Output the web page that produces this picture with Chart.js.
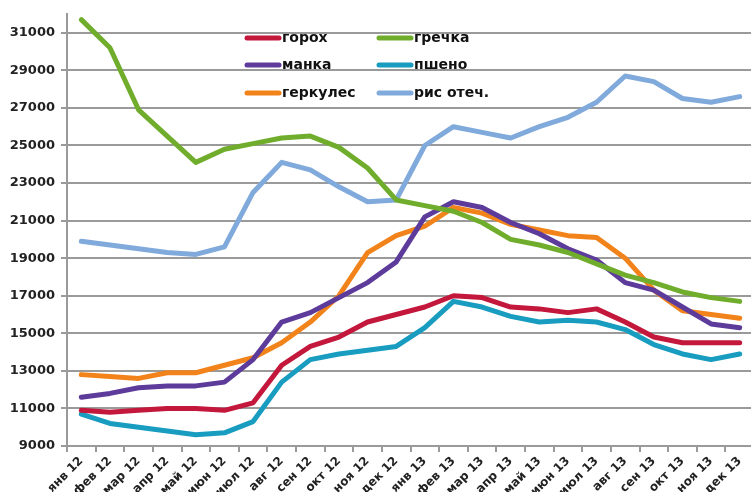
<!DOCTYPE html>
<html>
<head>
<meta charset="utf-8">
<script src="https://cdn.jsdelivr.net/npm/chart.js@4.4.1/dist/chart.umd.min.js"></script>
<style>
	html, body { margin: 0; padding: 0; background: #fff; overflow: hidden; }
	#wrap { width: 760px; height: 492px; }
</style>
</head>
<body>
<div id="wrap"><canvas id="prices"></canvas></div>
<script>
// месяцы по оси X
var months = ['янв 12', 'фев 12', 'мар 12', 'апр 12', 'май 12', 'июн 12', 'июл 12', 'авг 12', 'сен 12', 'окт 12', 'ноя 12', 'дек 12',
	'янв 13', 'фев 13', 'мар 13', 'апр 13', 'май 13', 'июн 13', 'июл 13', 'авг 13', 'сен 13', 'окт 13', 'ноя 13', 'дек 13'];

// деления оси Y
var yTicks = [9000, 11000, 13000, 15000, 17000, 19000, 21000, 23000, 25000, 27000, 29000, 31000];

// цены по крупам
var gorokh = [10900, 10800, 10900, 11000, 11000, 10900, 11300, 13300, 14300, 14800, 15600, 16000, 16400, 17000, 16900, 16400, 16300, 16100, 16300, 15600, 14800, 14500, 14500, 14500];
var grechka = [31700, 30200, 26900, 25500, 24100, 24800, 25100, 25400, 25500, 24900, 23800, 22100, 21800, 21500, 20900, 20000, 19700, 19300, 18700, 18100, 17700, 17200, 16900, 16700];
var manka = [11600, 11800, 12100, 12200, 12200, 12400, 13600, 15600, 16100, 16900, 17700, 18800, 21200, 22000, 21700, 20900, 20300, 19500, 18900, 17700, 17300, 16400, 15500, 15300];
var psheno = [10700, 10200, 10000, 9800, 9600, 9700, 10300, 12400, 13600, 13900, 14100, 14300, 15300, 16700, 16400, 15900, 15600, 15700, 15600, 15200, 14400, 13900, 13600, 13900];
var herkules = [12800, 12700, 12600, 12900, 12900, 13300, 13700, 14500, 15600, 17000, 19300, 20200, 20700, 21700, 21400, 20800, 20500, 20200, 20100, 19000, 17300, 16200, 16000, 15800];
var ris = [19900, 19700, 19500, 19300, 19200, 19600, 22500, 24100, 23700, 22800, 22000, 22100, 25000, 26000, 25700, 25400, 26000, 26500, 27300, 28700, 28400, 27500, 27300, 27600];

var FONT = 'DejaVu Sans';
var GRID = '#9a9a9a';

function line(label, data, color) {
	return {
		label: label,
		data: data,
		borderColor: color,
		backgroundColor: color,
		borderWidth: 5,
		pointRadius: 0,
		tension: 0,
		borderCapStyle: 'round',
		borderJoinStyle: 'round'
	};
}

// легенда внутри области графика, две колонки
var innerLegend = {
	id: 'innerLegend',
	afterDraw: function (chart) {
		var ctx = chart.ctx,
			sets = chart.data.datasets,
			cols = [245, 377],
			rows = [38, 65, 93];
		ctx.save();
		ctx.font = 'bold 14px "' + FONT + '"';
		ctx.textBaseline = 'middle';
		ctx.textAlign = 'left';
		sets.forEach(function (ds, i) {
			var x = cols[i % 2], y = rows[Math.floor(i / 2)];
			ctx.strokeStyle = ds.borderColor;
			ctx.lineWidth = 5;
			ctx.lineCap = 'round';
			ctx.beginPath();
			ctx.moveTo(x + 2, y);
			ctx.lineTo(x + 34, y);
			ctx.stroke();
			ctx.fillStyle = '#111';
			ctx.fillText(ds.label, x + 37, y);
		});
		ctx.restore();
	}
};

new Chart(document.getElementById('prices'), {
	type: 'line',
	data: {
		labels: months,
		datasets: [
			line('горох', gorokh, '#c3173c'),
			line('гречка', grechka, '#70ad2c'),
			line('манка', manka, '#5d3b9b'),
			line('пшено', psheno, '#189cc0'),
			line('геркулес', herkules, '#f2831a'),
			line('рис отеч.', ris, '#80aadb')
		]
	},
	options: {
		responsive: true,
		maintainAspectRatio: false,
		animation: false,
		layout: { padding: { top: 14, right: 6, left: 0, bottom: 0 } },
		plugins: {
			legend: { display: false },
			tooltip: { enabled: false }
		},
		scales: {
			x: {
				offset: true,
				grid: {
					offset: true,
					drawOnChartArea: false,
					drawTicks: true,
					tickLength: 6,
					color: GRID,
					lineWidth: 2
				},
				border: { color: GRID, width: 2 },
				ticks: {
					autoSkip: false,
					maxRotation: 45,
					minRotation: 45,
					color: '#222',
					padding: 2,
					font: { family: FONT, size: 12, weight: 'bold' }
				},
				afterFit: function (s) { s.height = 46; }
			},
			y: {
				min: 9000,
				max: 32000,
				afterBuildTicks: function (axis) {
					axis.ticks = yTicks.map(function (v) { return { value: v }; });
				},
				grid: {
					color: GRID,
					lineWidth: 2,
					tickLength: 6
				},
				border: { color: GRID, width: 2 },
				ticks: {
					color: '#222',
					padding: 6,
					font: { family: FONT, size: 13, weight: 'bold' },
					callback: function (v) { return String(v); }
				},
				afterFit: function (s) { s.width = 67; }
			}
		}
	},
	plugins: [innerLegend]
});
</script>
</body>
</html>
